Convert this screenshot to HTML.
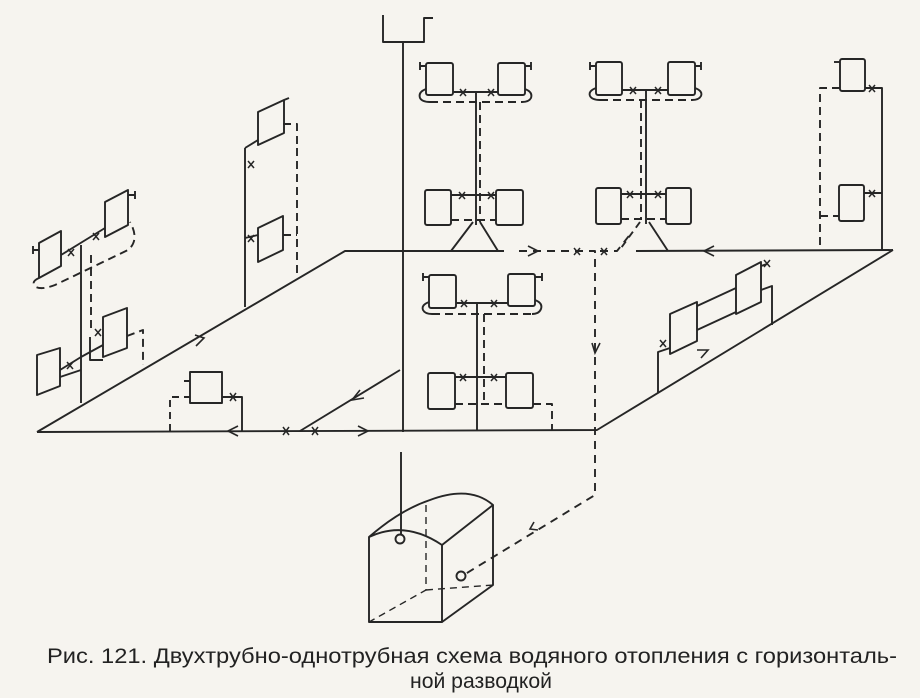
<!DOCTYPE html>
<html><head><meta charset="utf-8"><style>
html,body{margin:0;padding:0;background:#f6f4ef;}
svg{display:block;}
text{font-family:"Liberation Sans","DejaVu Sans",sans-serif;fill:#222;}
</style></head><body>
<svg width="920" height="698" viewBox="0 0 920 698" xmlns="http://www.w3.org/2000/svg">
<rect width="920" height="698" fill="#f6f4ef"/>
<g fill="none" stroke="#262626" stroke-width="1.9" stroke-linejoin="round">
<!-- floor loop -->
<path d="M37 432 L345 251 L504 251"/>
<path d="M37 432 L597 430 L893 250"/>
<path d="M636 251 L893 250"/>
<path d="M300 431 L400 370"/>
<g stroke-dasharray="8 6">
<path d="M519 251 L590 251 L595 251 L595 495 L462 576"/>
<path d="M600 251 L617 251 L632 232"/>
</g>
<!-- riser to expansion tank -->
<path d="M383 15 L383 42 L424 42 L424 18 L433 18"/>
<path d="M403 42 L403 432"/>
<path d="M401 452 L401 535"/>
<!-- tank -->
<path d="M369 622 L369 537 Q405 520 442 545 L442 622 Z"/>
<path d="M442 545 L493 505 Q470 485 430 500 Q400 510 369 537"/>
<path d="M493 505 L493 585 L442 622"/>
<g stroke-dasharray="7 5" stroke-width="1.4">
<path d="M426 505 L426 590 L369 622"/>
<path d="M426 590 L493 585"/>
</g>
<circle cx="400" cy="539" r="4.5" fill="#f6f4ef"/>
<circle cx="461" cy="576" r="4.5" fill="#f6f4ef"/>

<!-- left wall stack -->
<path d="M39 243 L61 231 L61 266 L39 278 Z"/>
<path d="M105 202 L128 190 L128 225 L105 237 Z"/>
<path d="M37 355 L60 348 L60 386 L37 395 Z"/>
<path d="M103 317 L127 308 L127 348 L103 357 Z"/>
<path d="M33 250 L39 250 M33 246 L33 254 M128 195 L135 195 M135 191 L135 199"/>
<path d="M61 255 L105 228"/>
<path d="M81 245 L81 403"/>
<path d="M60 370 L81 357 L103 345 M60 377 L81 370 M90 337 L90 360 L103 360"/>
<g stroke-dasharray="8 5">
<path d="M39 278 Q30 282 36 287 Q42 290 55 285 L128 250 Q140 240 130 222"/>
<path d="M91 255 L91 330"/>
<path d="M127 336 L143 330 L143 365"/>
</g>
<!-- tall left riser -->
<path d="M245 148 L245 307"/>
<path d="M258 112 L284 100 L284 133 L258 145 Z"/>
<path d="M258 228 L283 216 L283 250 L258 262 Z"/>
<path d="M245 148 L258 140 M245 238 L258 235 M284 100 L289 98"/>
<g stroke-dasharray="8 5">
<path d="M297 148 L297 278 M283 124 L297 124 L297 148 M283 235 L297 235"/>
</g>
<!-- small front radiator -->
<path d="M190 372 L222 372 L222 403 L190 403 Z M184 381 L190 381"/>
<path d="M222 397 L242 397 L242 431"/>
<path d="M170 431 L170 397 L190 397" stroke-dasharray="7 5"/>

<!-- stack 1 -->
<rect x="426" y="63" width="27" height="32" rx="2"/>
<rect x="498" y="63" width="27" height="32" rx="2"/>
<path d="M420 66 L426 66 M420 62 L420 70 M525 66 L531 66 M531 62 L531 70"/>
<path d="M453 92 L498 92 M476 92 L476 225"/>
<path d="M426 89 Q418 92 420 98 Q422 102 430 102 M525 89 Q533 92 531 98 Q529 102 522 102"/>
<path d="M430 102 L522 102 M480 102 L480 222" stroke-dasharray="8 5"/>
<rect x="425" y="190" width="26" height="35" rx="2"/>
<rect x="496" y="190" width="27" height="35" rx="2"/>
<path d="M451 195 L496 195"/>
<path d="M451 220 L496 220" stroke-dasharray="8 5"/>
<path d="M473 222 L451 251 M480 222 L498 251"/>
<!-- stack 2 -->
<rect x="596" y="62" width="26" height="33" rx="2"/>
<rect x="668" y="62" width="27" height="33" rx="2"/>
<path d="M590 66 L596 66 M590 62 L590 70 M695 66 L701 66 M701 62 L701 70"/>
<path d="M622 90 L668 90 M646 90 L646 224"/>
<path d="M596 88 Q588 91 590 96 Q592 100 600 100 M695 88 Q703 91 701 96 Q699 100 692 100"/>
<path d="M600 100 L692 100 M641 100 L641 220" stroke-dasharray="8 5"/>
<rect x="596" y="188" width="25" height="36" rx="2"/>
<rect x="666" y="188" width="25" height="36" rx="2"/>
<path d="M621 194 L666 194"/>
<path d="M621 219 L666 219" stroke-dasharray="8 5"/>
<path d="M649 222 L668 251"/>
<path d="M640 222 L621 248" stroke-dasharray="7 5"/>
<!-- stack 3 -->
<rect x="840" y="59" width="25" height="32" rx="2"/>
<path d="M834 62 L840 62"/>
<path d="M865 88 L882 88 L882 250 M864 193 L882 193"/>
<rect x="839" y="185" width="25" height="36" rx="2"/>
<path d="M840 88 L820 88 L820 250 M820 216 L839 216" stroke-dasharray="8 5"/>
<!-- center lower stack -->
<rect x="429" y="275" width="27" height="33" rx="2"/>
<rect x="508" y="274" width="27" height="32" rx="2"/>
<path d="M423 277 L429 277 M423 273 L423 281 M535 277 L542 277 M542 273 L542 281"/>
<path d="M456 303 L508 303 M477 303 L477 431"/>
<path d="M429 302 Q421 305 423 310 Q425 314 432 314 M535 300 Q543 303 541 309 Q539 314 532 314"/>
<path d="M432 314 L532 314 M484 314 L484 404" stroke-dasharray="8 5"/>
<rect x="428" y="373" width="27" height="36" rx="2"/>
<rect x="506" y="373" width="27" height="35" rx="2"/>
<path d="M455 377 L506 377"/>
<path d="M455 404 L506 404 M533 404 L552 404 L552 430" stroke-dasharray="8 5"/>
<!-- right wall -->
<path d="M670 314 L697 302 L697 341 L670 354 Z"/>
<path d="M736 275 L761 262 L761 302 L736 314 Z"/>
<path d="M697 306 L736 288 M697 330 L736 312"/>
<path d="M761 290 L772 286 L772 325 M670 348 L658 352 L658 393 M761 266 L767 264"/>
</g>
<!-- valves (crosses) -->
<g stroke="#262626" stroke-width="1.5" fill="none">
<path d="M283 427 l6 8 m0 -8 l-6 8 M312 427 l6 8 m0 -8 l-6 8 M230 393 l6 8 m0 -8 l-6 8"/>
<path d="M460 89 l6 7 m0 -7 l-6 7 M488 89 l6 7 m0 -7 l-6 7 M459 192 l6 7 m0 -7 l-6 7 M488 192 l6 7 m0 -7 l-6 7"/>
<path d="M630 87 l6 7 m0 -7 l-6 7 M655 87 l6 7 m0 -7 l-6 7 M627 191 l6 7 m0 -7 l-6 7 M655 191 l6 7 m0 -7 l-6 7"/>
<path d="M869 85 l6 7 m0 -7 l-6 7 M869 190 l6 7 m0 -7 l-6 7 M574 248 l6 7 m0 -7 l-6 7 M601 248 l6 7 m0 -7 l-6 7"/>
<path d="M461 300 l6 7 m0 -7 l-6 7 M491 300 l6 7 m0 -7 l-6 7 M460 374 l6 7 m0 -7 l-6 7 M491 374 l6 7 m0 -7 l-6 7"/>
<path d="M68 249 l6 7 m0 -7 l-6 7 M93 233 l6 7 m0 -7 l-6 7 M67 362 l6 7 m0 -7 l-6 7 M95 329 l6 7 m0 -7 l-6 7 M248 161 l6 7 m0 -7 l-6 7 M248 235 l6 7 m0 -7 l-6 7 M660 340 l6 7 m0 -7 l-6 7 M764 260 l6 7 m0 -7 l-6 7"/>
</g>
<!-- arrowheads -->
<g stroke="#262626" stroke-width="1.6" fill="none">
<path d="M238 426 L228 431 L238 436"/>
<path d="M358 426 L368 431 L358 436"/>
<path d="M360 390 L352 400 L364 398"/>
<path d="M195 335 L204 338 L196 346"/>
<path d="M528 246 L538 251 L528 256"/>
<path d="M714 246 L704 251 L714 256"/>
<path d="M592 343 L595 353 L600 343"/>
<path d="M697 350 L708 350 L701 358"/>
<path d="M534 522 L530 529 L538 530"/>
</g>
<text x="47" y="663" font-size="21" textLength="850" lengthAdjust="spacingAndGlyphs">Рис. 121. Двухтрубно-однотрубная схема водяного отопления с горизонталь-</text>
<text x="410" y="688" font-size="21" textLength="142" lengthAdjust="spacingAndGlyphs">ной разводкой</text>
</svg>
</body></html>
